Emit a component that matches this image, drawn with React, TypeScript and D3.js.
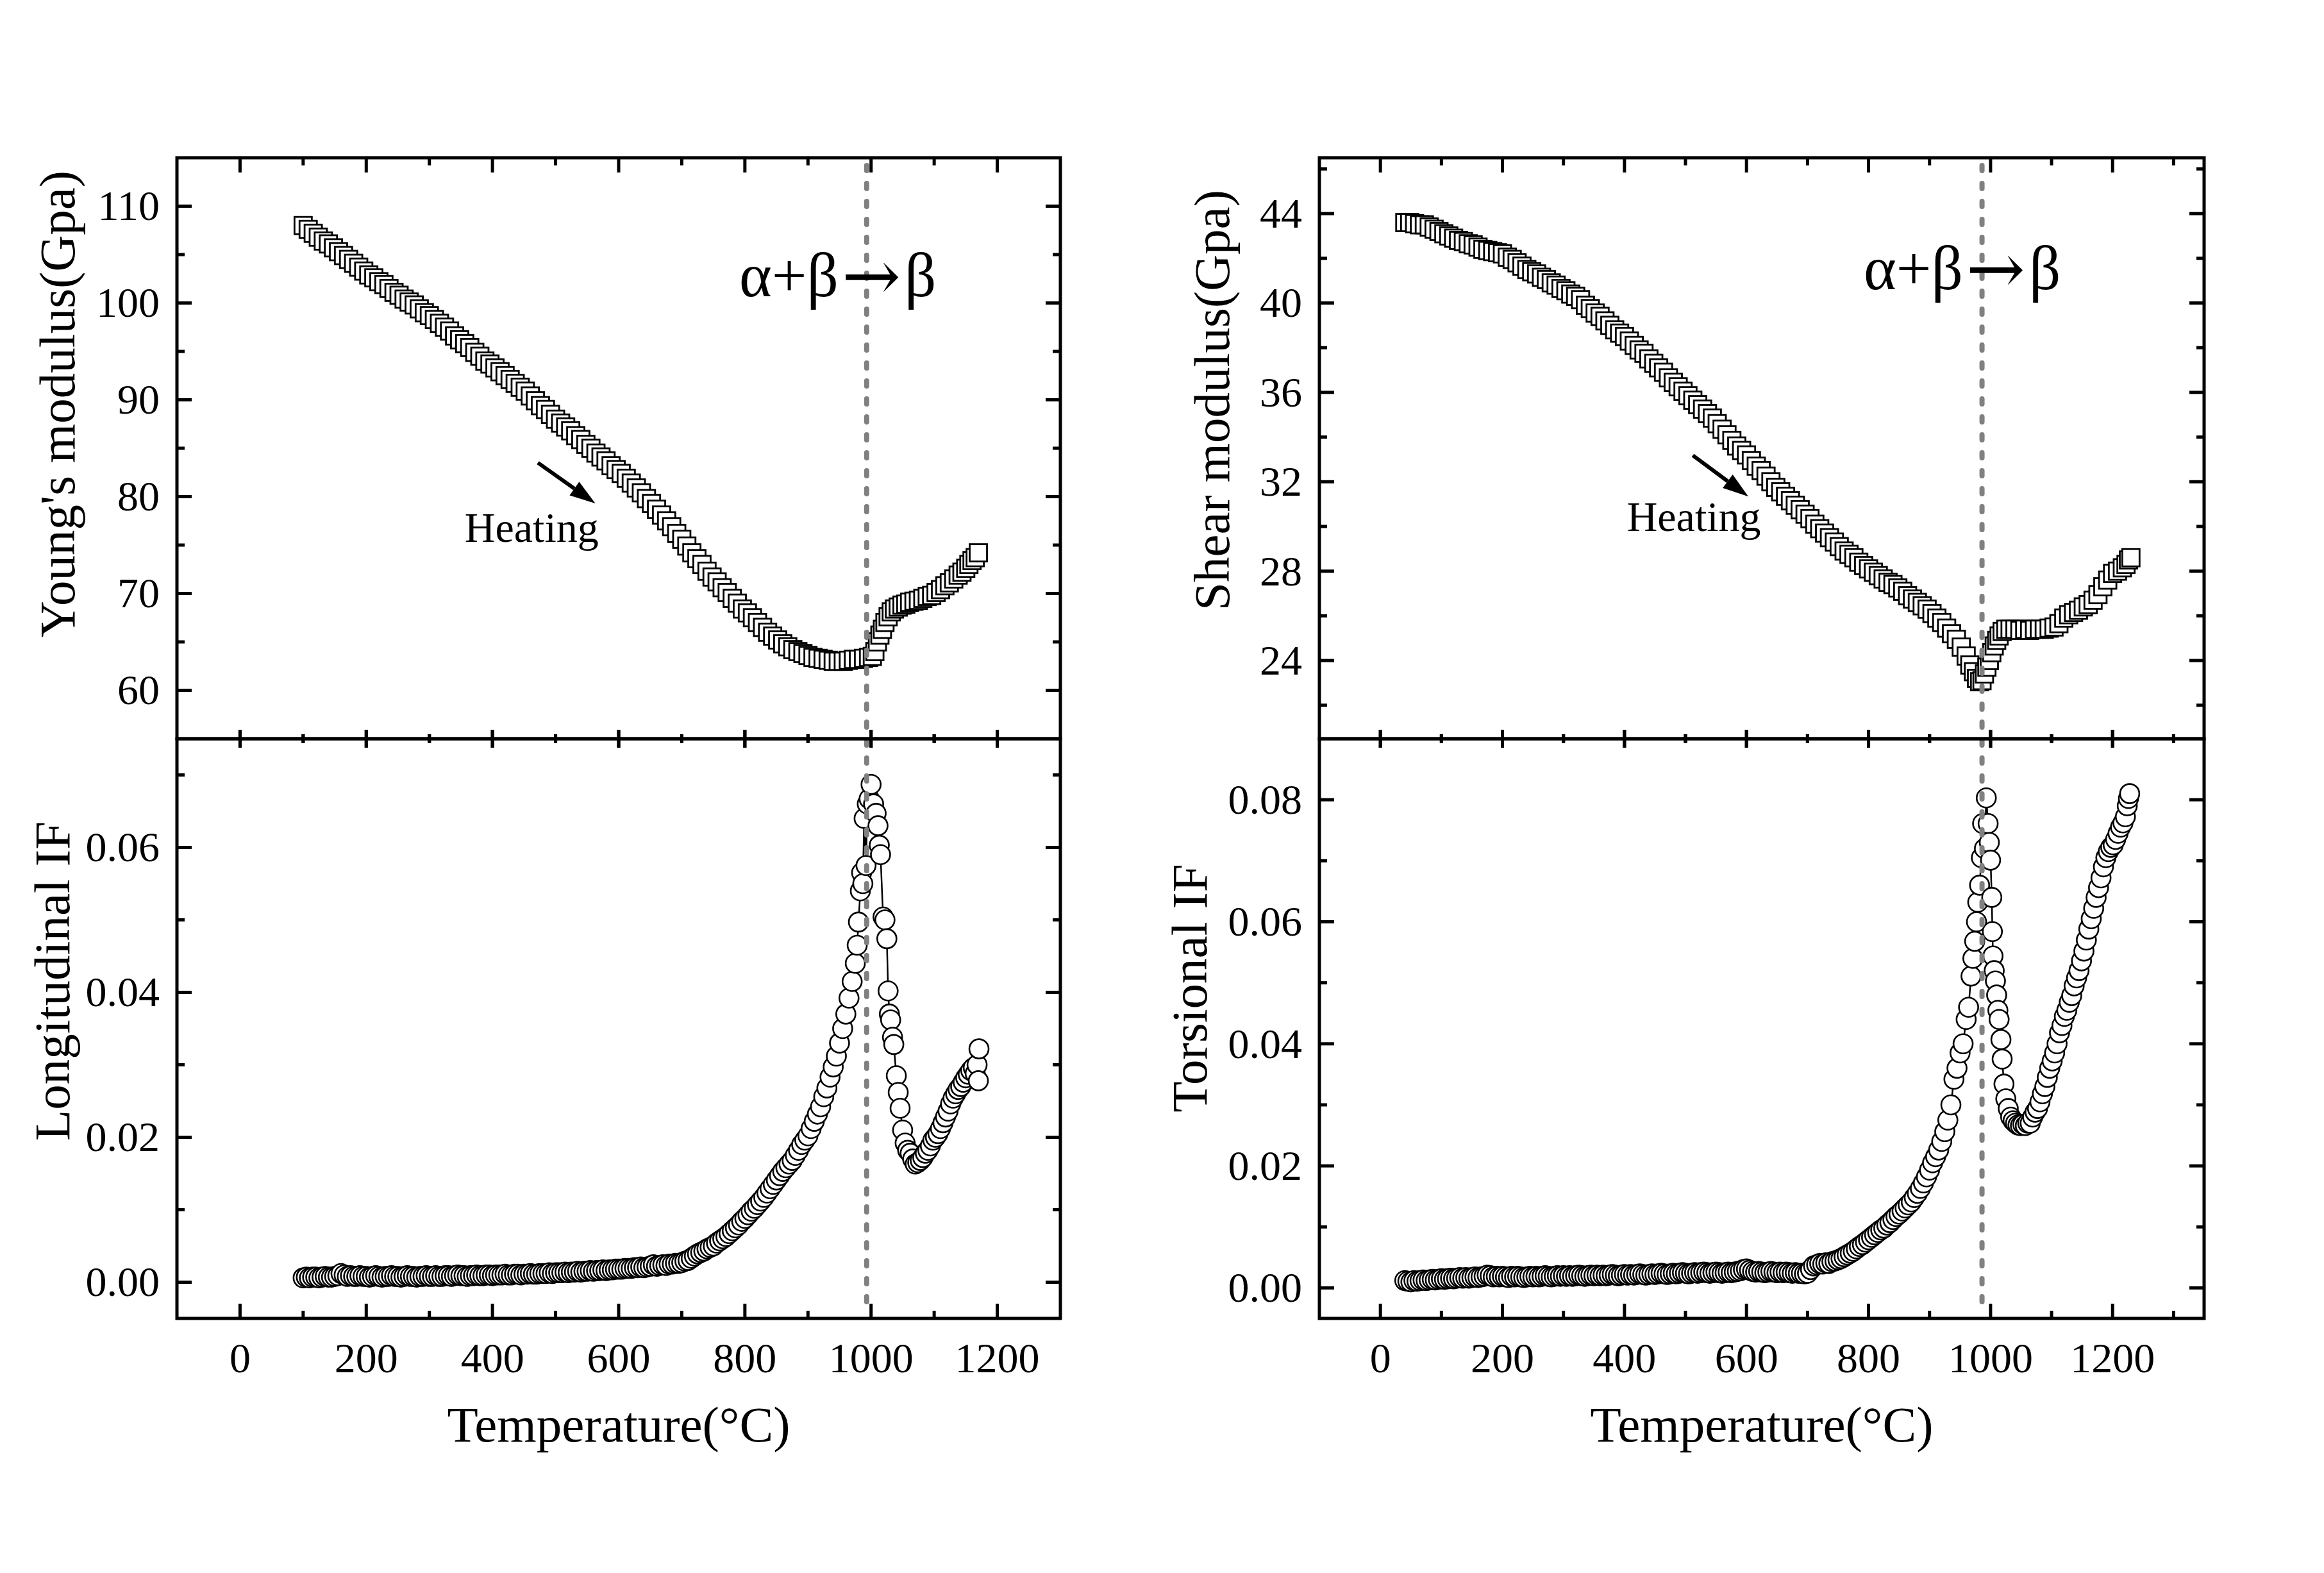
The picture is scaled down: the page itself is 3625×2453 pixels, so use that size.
import React from 'react';
import * as d3 from 'd3';

const FONT = "'Times New Roman', 'Liberation Serif', serif";

// ---------- DATA ----------
// Young's modulus (GPa) vs temperature (°C)
const youngData: [number, number][] = [
  [100,108.0],[108,107.6],[116,107.2],[124,106.8],[132,106.4],[140,106.1],[148,105.7],[156,105.3],[164,104.9],[172,104.5],
  [180,104.1],[188,103.7],[196,103.3],[204,102.9],[212,102.6],[220,102.2],[228,101.9],[236,101.5],[244,101.1],[252,100.8],
  [260,100.4],[268,100.1],[276,99.8],[284,99.4],[292,99.0],[300,98.7],[308,98.3],[316,97.9],[324,97.5],[332,97.1],
  [340,96.6],[348,96.2],[356,95.8],[364,95.4],[372,94.9],[380,94.5],[388,94.0],[396,93.7],[404,93.3],[412,92.9],
  [420,92.5],[428,92.1],[436,91.7],[444,91.3],[452,90.9],[460,90.4],[468,89.9],[476,89.4],[484,89.0],[492,88.5],
  [500,88.0],[508,87.6],[516,87.2],[524,86.8],[532,86.3],[540,85.9],[548,85.4],[556,85.0],[564,84.5],[572,84.1],
  [580,83.7],[588,83.2],[596,82.8],[604,82.4],[612,81.9],[620,81.4],[628,80.9],[636,80.4],[644,79.8],[652,79.3],
  [660,78.7],[668,78.1],[676,77.5],[684,76.9],[692,76.2],[700,75.6],[708,74.9],[716,74.2],[724,73.6],[732,73.0],
  [740,72.3],[748,71.7],[756,71.2],[764,70.6],[772,70.1],[780,69.5],[788,69.0],[796,68.4],[804,68.0],[812,67.5],
  [820,67.0],[828,66.5],[836,66.0],[844,65.6],[852,65.2],[860,64.8],[868,64.5],[876,64.2],[884,64.0],[892,63.8],
  [900,63.6],[908,63.4],[916,63.3],[924,63.2],[932,63.1],[940,63.0],[948,63.0],[956,63.0],[964,63.1],[972,63.2],
  [980,63.2],[988,63.3],[996,63.4],[1002,63.5],[1006,64.0],[1010,65.0],[1014,65.7],[1018,66.3],[1022,67.0],[1027,67.6],
  [1032,68.1],[1037,68.4],[1043,68.6],[1049,68.8],[1055,68.9],[1061,69.1],[1068,69.2],[1075,69.3],[1082,69.5],[1089,69.7],
  [1096,69.8],[1103,70.1],[1110,70.4],[1117,70.8],[1124,71.1],[1131,71.5],[1138,71.9],[1144,72.2],[1150,72.6],[1155,73.0],
  [1160,73.4],[1165,73.7],[1170,74.2],
];

// Longitudinal internal friction vs temperature (°C)
const longIFData: [number, number][] = [
  [100,.0006],[105,.0007],[110,.0006],[115,.0007],[120,.0007],[125,.0006],[130,.0007],[135,.0008],[140,.0007],[145,.0007],
  [150,.0008],[155,.0009],[160,.0012],[165,.0010],[170,.0008],[175,.0009],[180,.0008],[185,.0008],[190,.0009],[195,.0008],
  [200,.0008],[205,.0007],[210,.0008],[215,.0009],[220,.0008],[225,.0007],[230,.0008],[235,.0008],[240,.0009],[245,.0008],
  [250,.0008],[255,.0007],[260,.0008],[265,.0009],[270,.0008],[275,.0008],[280,.0007],[285,.0008],[290,.0008],[295,.0009],
  [300,.0008],[305,.0008],[310,.0009],[315,.0008],[320,.0008],[325,.0009],[330,.0009],[335,.0008],[340,.0009],[345,.0010],
  [350,.0009],[355,.0009],[360,.0008],[365,.0009],[370,.0009],[375,.0010],[380,.0009],[385,.0009],[390,.0010],[395,.0010],
  [400,.0009],[405,.0010],[410,.0010],[415,.0010],[420,.0011],[425,.0010],[430,.0010],[435,.0011],[440,.0011],[445,.0010],
  [450,.0011],[455,.0011],[460,.0012],[465,.0011],[470,.0011],[475,.0012],[480,.0012],[485,.0012],[490,.0013],[495,.0012],
  [500,.0013],[505,.0013],[510,.0013],[515,.0014],[520,.0013],[525,.0014],[530,.0014],[535,.0015],[540,.0014],[545,.0015],
  [550,.0015],[555,.0016],[560,.0015],[565,.0016],[570,.0016],[575,.0017],[580,.0016],[585,.0017],[590,.0017],[595,.0018],
  [600,.0018],[605,.0018],[610,.0019],[615,.0019],[620,.0019],[625,.0020],[630,.0020],[635,.0021],[640,.0020],[645,.0021],
  [650,.0022],[655,.0024],[660,.0022],[665,.0023],[670,.0024],[675,.0023],[680,.0025],[685,.0025],[690,.0026],[695,.0026],
  [700,.0027],[705,.0029],[710,.0030],[715,.0033],[720,.0036],[725,.0039],[730,.0041],[735,.0043],[740,.0046],[745,.0048],
  [750,.0050],[755,.0054],[760,.0057],[765,.0060],[770,.0063],[775,.0067],[780,.0071],[785,.0075],[790,.0079],[795,.0084],
  [800,.0088],[805,.0093],[810,.0098],[815,.0102],[820,.0107],[825,.0112],[830,.0117],[835,.0123],[840,.0129],[845,.0135],
  [850,.0141],[855,.0147],[860,.0153],[865,.0158],[870,.0163],[875,.0168],[880,.0175],[885,.0182],[890,.0190],[895,.0196],
  [900,.0202],[905,.0212],[910,.0222],[915,.0232],[920,.0242],[925,.0256],[930,.0268],[935,.0283],[940,.0297],[945,.0312],
  [950,.0330],[955,.0350],[960,.0370],[965,.0392],[970,.0415],[975,.0440],[978,.0465],[980,.0497],[983,.0540],[985,.0565],
  [987,.0550],[989,.0640],[992,.0575],[994,.0660],[997,.0667],[1000,.0687],[1004,.0660],[1008,.0647],[1011,.0630],[1013,.0603],
  [1015,.0590],[1019,.0504],[1022,.0500],[1025,.0474],[1027,.0402],[1029,.0370],[1031,.0362],[1034,.0338],[1036,.0328],[1040,.0285],
  [1043,.0262],[1046,.0240],[1050,.0210],[1054,.0192],[1058,.0182],[1062,.0178],[1066,.0170],[1070,.0163],[1074,.0165],[1078,.0168],
  [1082,.0172],[1086,.0178],[1090,.0182],[1094,.0188],[1098,.0196],[1102,.0200],[1106,.0205],[1110,.0212],[1114,.0220],[1118,.0228],
  [1122,.0236],[1126,.0246],[1130,.0254],[1134,.0260],[1138,.0266],[1142,.0270],[1146,.0276],[1150,.0282],[1154,.0287],[1158,.0292],
  [1162,.0296],[1165,.0288],[1168,.0300],[1170,.0278],[1171,.0322],
];

// Shear modulus (GPa) vs temperature (°C)
const shearData: [number, number][] = [
  [40,43.6],[48,43.6],[56,43.55],[64,43.5],[72,43.5],[80,43.4],[88,43.3],[96,43.2],[104,43.1],[112,43.0],
  [120,42.9],[128,42.8],[136,42.75],[144,42.65],[152,42.6],[160,42.5],[168,42.4],[176,42.35],[184,42.3],[192,42.25],
  [200,42.2],[208,42.05],[216,41.95],[224,41.8],[232,41.65],[240,41.5],[248,41.4],[256,41.3],[264,41.15],[272,41.05],
  [280,40.9],[288,40.8],[296,40.65],[304,40.55],[312,40.4],[320,40.3],[328,40.15],[336,39.9],[344,39.75],[352,39.55],
  [360,39.4],[368,39.2],[376,39.0],[384,38.8],[392,38.65],[400,38.5],[408,38.3],[416,38.1],[424,37.9],[432,37.75],
  [440,37.5],[448,37.3],[456,37.1],[464,36.9],[472,36.65],[480,36.45],[488,36.25],[496,36.05],[504,35.85],[512,35.65],
  [520,35.45],[528,35.25],[536,35.05],[544,34.85],[552,34.6],[560,34.35],[568,34.1],[576,33.85],[584,33.6],[592,33.4],
  [600,33.2],[608,32.95],[616,32.7],[624,32.5],[632,32.25],[640,32.0],[648,31.75],[656,31.55],[664,31.35],[672,31.15],
  [680,30.95],[688,30.75],[696,30.55],[704,30.35],[712,30.1],[720,29.9],[728,29.7],[736,29.5],[744,29.3],[752,29.1],
  [760,28.9],[768,28.75],[776,28.6],[784,28.4],[792,28.25],[800,28.1],[808,27.95],[816,27.8],[824,27.65],[832,27.5],
  [840,27.4],[848,27.25],[856,27.1],[864,26.9],[872,26.75],[880,26.6],[888,26.45],[896,26.3],[904,26.1],[912,25.9],
  [920,25.7],[928,25.45],[936,25.2],[944,24.95],[952,24.6],[960,24.2],[966,23.8],[972,23.5],[977,23.2],[982,23.05],
  [986,23.1],[990,23.4],[994,23.7],[998,24.0],[1002,24.35],[1006,24.65],[1010,24.9],[1014,25.1],[1019,25.3],[1025,25.4],
  [1032,25.4],[1040,25.4],[1048,25.35],[1056,25.4],[1064,25.35],[1072,25.4],[1080,25.4],[1088,25.4],[1096,25.45],[1104,25.5],
  [1112,25.65],[1120,25.9],[1128,26.05],[1136,26.15],[1144,26.25],[1152,26.4],[1160,26.5],[1168,26.7],[1176,26.95],[1184,27.3],
  [1192,27.6],[1200,27.9],[1208,28.0],[1216,28.15],[1222,28.3],[1226,28.5],[1230,28.6],
];

// Torsional internal friction vs temperature (°C)
const torsIFData: [number, number][] = [
  [40,.0012],[45,.0011],[50,.0010],[55,.0012],[60,.0011],[65,.0012],[70,.0013],[75,.0012],[80,.0013],[85,.0014],
  [90,.0013],[95,.0014],[100,.0015],[105,.0014],[110,.0015],[115,.0016],[120,.0015],[125,.0016],[130,.0017],[135,.0016],
  [140,.0017],[145,.0016],[150,.0017],[155,.0018],[160,.0017],[165,.0018],[170,.0019],[175,.0021],[180,.0020],[185,.0018],
  [190,.0019],[195,.0018],[200,.0019],[205,.0018],[210,.0017],[215,.0019],[220,.0018],[225,.0019],[230,.0018],[235,.0017],
  [240,.0018],[245,.0019],[250,.0018],[255,.0019],[260,.0018],[265,.0019],[270,.0020],[275,.0019],[280,.0018],[285,.0019],
  [290,.0020],[295,.0019],[300,.0020],[305,.0019],[310,.0020],[315,.0019],[320,.0020],[325,.0021],[330,.0020],[335,.0019],
  [340,.0020],[345,.0021],[350,.0020],[355,.0021],[360,.0020],[365,.0021],[370,.0020],[375,.0021],[380,.0022],[385,.0021],
  [390,.0020],[395,.0021],[400,.0022],[405,.0021],[410,.0022],[415,.0021],[420,.0022],[425,.0023],[430,.0022],[435,.0021],
  [440,.0022],[445,.0023],[450,.0022],[455,.0023],[460,.0024],[465,.0023],[470,.0022],[475,.0023],[480,.0024],[485,.0023],
  [490,.0024],[495,.0025],[500,.0024],[505,.0023],[510,.0024],[515,.0025],[520,.0024],[525,.0025],[530,.0026],[535,.0025],
  [540,.0024],[545,.0025],[550,.0026],[555,.0025],[560,.0024],[565,.0025],[570,.0026],[575,.0025],[580,.0026],[585,.0027],
  [590,.0028],[595,.0030],[600,.0031],[605,.0029],[610,.0027],[615,.0026],[620,.0027],[625,.0026],[630,.0025],[635,.0026],
  [640,.0027],[645,.0026],[650,.0025],[655,.0026],[660,.0025],[665,.0026],[670,.0025],[675,.0024],[680,.0025],[685,.0024],
  [690,.0024],[695,.0023],[700,.0024],[705,.0030],[710,.0036],[715,.0038],[720,.0040],[725,.0039],[730,.0041],[735,.0040],
  [740,.0043],[745,.0044],[750,.0046],[755,.0048],[760,.0051],[765,.0054],[770,.0057],[775,.0060],[780,.0064],[785,.0068],
  [790,.0071],[795,.0075],[800,.0079],[805,.0083],[810,.0087],[815,.0091],[820,.0095],[825,.0098],[830,.0103],[835,.0107],
  [840,.0112],[845,.0117],[850,.0121],[855,.0126],[860,.0131],[865,.0136],[870,.0141],[875,.0148],[880,.0155],[885,.0163],
  [890,.0172],[895,.0182],[900,.0193],[905,.0205],[910,.0215],[915,.0226],[920,.0240],[925,.0256],[930,.0275],[935,.0300],
  [940,.0342],[945,.0360],[950,.0385],[955,.0400],[960,.0440],[964,.0460],[968,.0511],[971,.0540],[974,.0568],[977,.0600],
  [979,.0632],[982,.0660],[985,.0705],[987,.0761],[990,.0720],[993,.0803],[996,.0761],[998,.0730],[1000,.0701],[1002,.0640],
  [1003,.0584],[1004,.0544],[1006,.0520],[1008,.0503],[1010,.0480],[1012,.0455],[1014,.0440],[1017,.0407],[1019,.0375],[1022,.0334],
  [1025,.0310],[1029,.0294],[1033,.0280],[1037,.0274],[1041,.0270],[1045,.0267],[1049,.0266],[1053,.0268],[1057,.0266],[1061,.0270],
  [1065,.0270],[1069,.0280],[1073,.0288],[1077,.0294],[1081,.0305],[1085,.0318],[1089,.0330],[1093,.0345],[1097,.0360],[1101,.0372],
  [1105,.0385],[1109,.0400],[1113,.0418],[1117,.0430],[1121,.0445],[1125,.0455],[1129,.0468],[1133,.0479],[1137,.0495],[1141,.0508],
  [1145,.0520],[1149,.0536],[1153,.0552],[1157,.0570],[1161,.0588],[1165,.0605],[1169,.0622],[1173,.0640],[1177,.0656],[1181,.0672],
  [1185,.0690],[1189,.0705],[1193,.0715],[1197,.0722],[1201,.0726],[1205,.0735],[1209,.0745],[1213,.0755],[1217,.0762],[1221,.0772],
  [1224,.0790],[1226,.0802],[1228,.0810],
];

// Ticks
const xMajor = [0, 200, 400, 600, 800, 1000, 1200];
const xMinor = [100, 300, 500, 700, 900, 1100, 1300];
const youngMajor = [60, 70, 80, 90, 100, 110];
const youngMinor = [65, 75, 85, 95, 105];
const longMajor = [0, 0.02, 0.04, 0.06];
const longMinor = [0.01, 0.03, 0.05, 0.07];
const shearMajor = [24, 28, 32, 36, 40, 44];
const shearMinor = [22, 26, 30, 34, 38, 42, 46];
const torsMajor = [0, 0.02, 0.04, 0.06, 0.08];
const torsMinor = [0.01, 0.03, 0.05, 0.07];

// Transition temperatures (dashed lines)
const transitionLeft = 993;
const transitionRight = 986;

// ---------- LAYOUT ----------
const W = 3625, H = 2453;
const Y0 = 246, YM = 1152, Y1 = 2056;
const LX0 = 276, LX1 = 1654, RX0 = 2058, RX1 = 3438;

const xL = d3.scaleLinear().domain([-100, 1300]).range([LX0, LX1]);
const xR = d3.scaleLinear().domain([-100, 1350]).range([RX0, RX1]);
const yYoung = d3.scaleLinear().domain([55, 115]).range([YM, Y0]);
const yLong = d3.scaleLinear().domain([-0.005, 0.075]).range([Y1, YM]);
const yShear = d3.scaleLinear().domain([20.5, 46.5]).range([YM, Y0]);
const yTors = d3.scaleLinear().domain([-0.005, 0.09]).range([Y1, YM]);

const TICK = 23, MINOR = 12, MIDT = 14, MIDM = 7, SW = 5;
const LABEL = 66, TITLE = 79;

type Sc = d3.ScaleLinear<number, number>;

function Frame({ x, y, yTop, yBot, major, minor, fmt, topKind, botKind, xLabels }: {
  x: Sc; y: Sc; yTop: number; yBot: number; major: number[]; minor: number[];
  fmt: (v: number) => string; topKind: 'edge' | 'mid'; botKind: 'edge' | 'mid'; xLabels: boolean;
}) {
  const [x0, x1] = x.range();
  const els: React.ReactNode[] = [];
  const inX = (v: number) => x(v) > x0 + 1 && x(v) < x1 - 1;
  [...xMajor.map(v => [v, 1]), ...xMinor.map(v => [v, 0])].forEach(([v, m], i) => {
    if (!inX(v)) return;
    const px = x(v);
    const topLen = topKind === 'edge' ? (m ? TICK : MINOR) : (m ? MIDT : MIDM);
    const botLen = botKind === 'edge' ? (m ? TICK : MINOR) : (m ? MIDT : MIDM);
    els.push(<line key={'xt' + i} x1={px} x2={px} y1={yTop - (topKind === 'mid' ? topLen : 0)} y2={yTop + topLen} stroke="#000" strokeWidth={SW} />);
    els.push(<line key={'xb' + i} x1={px} x2={px} y1={yBot - botLen} y2={yBot + (botKind === 'mid' ? botLen : 0)} stroke="#000" strokeWidth={SW} />);
  });
  [...major.map(v => [v, 1]), ...minor.map(v => [v, 0])].forEach(([v, m], i) => {
    const py = y(v);
    if (py < yTop + 1 || py > yBot - 1) return;
    const len = m ? TICK : MINOR;
    els.push(<line key={'yl' + i} x1={x0} x2={x0 + len} y1={py} y2={py} stroke="#000" strokeWidth={SW} />);
    els.push(<line key={'yr' + i} x1={x1 - len} x2={x1} y1={py} y2={py} stroke="#000" strokeWidth={SW} />);
  });
  major.forEach((v, i) => {
    els.push(<text key={'yla' + i} x={x0 - 27} y={y(v)} dy="0.333em" textAnchor="end" fontSize={LABEL} fontFamily={FONT}>{fmt(v)}</text>);
  });
  if (xLabels) {
    xMajor.forEach((v, i) => {
      els.push(<text key={'xla' + i} x={x(v)} y={yBot + 84} textAnchor="middle" fontSize={LABEL} fontFamily={FONT}>{String(v)}</text>);
    });
  }
  els.push(<rect key="frame" x={x0} y={yTop} width={x1 - x0} height={yBot - yTop} fill="none" stroke="#000" strokeWidth={SW} />);
  return <g>{els}</g>;
}

function Squares({ data, x, y }: { data: [number, number][]; x: Sc; y: Sc }) {
  const s = 27;
  return <g>{data.map((d, i) => (
    <rect key={i} x={x(d[0]) - s / 2} y={y(d[1]) - s / 2} width={s} height={s} fill="#fff" stroke="#000" strokeWidth={2.8} />
  ))}</g>;
}

function Circles({ data, x, y }: { data: [number, number][]; x: Sc; y: Sc }) {
  const line = d3.line<[number, number]>().x(d => x(d[0])).y(d => y(d[1]));
  return <g>
    <path d={line(data) || ''} fill="none" stroke="#000" strokeWidth={2.5} />
    {data.map((d, i) => (
      <circle key={i} cx={x(d[0])} cy={y(d[1])} r={15} fill="#fff" stroke="#000" strokeWidth={2.6} />
    ))}
  </g>;
}

function Arrow({ x1, y1, x2, y2 }: { x1: number; y1: number; x2: number; y2: number }) {
  const ang = Math.atan2(y2 - y1, x2 - x1);
  const hl = 40, hw = 13;
  const bx = x2 - hl * Math.cos(ang), by = y2 - hl * Math.sin(ang);
  const px = -Math.sin(ang) * hw, py = Math.cos(ang) * hw;
  return <g>
    <line x1={x1} y1={y1} x2={bx} y2={by} stroke="#000" strokeWidth={6} />
    <polygon points={`${x2},${y2} ${bx + px},${by + py} ${bx - px},${by - py}`} fill="#000" />
  </g>;
}

function Transition({ x, y }: { x: number; y: number }) {
  return <text x={x} y={y} fontSize={97} fontFamily={FONT}>
    α+β<tspan dx={5} dy={6} fontFamily="'DejaVu Serif', 'DejaVu Sans', serif" fontSize={110}>→</tspan><tspan dx={6} dy={-6}>β</tspan>
  </text>;
}

export default function App() {
  const f2 = (v: number) => v.toFixed(2);
  const f0 = (v: number) => String(v);
  return (
    <svg width={W} height={H} viewBox={`0 0 ${W} ${H}`} style={{ position: 'absolute', left: 0, top: 0, background: '#fff' }}>
      <rect x={0} y={0} width={W} height={H} fill="#fff" />

      {/* LEFT panels */}
      <Squares data={youngData} x={xL} y={yYoung} />
      <Circles data={longIFData} x={xL} y={yLong} />
      <line x1={xL(transitionLeft)} x2={xL(transitionLeft)} y1={Y0 + 12} y2={Y1 - 8} stroke="#808080" strokeWidth={8} strokeDasharray="8 20" strokeLinecap="round" />
      <Frame x={xL} y={yYoung} yTop={Y0} yBot={YM} major={youngMajor} minor={youngMinor} fmt={f0} topKind="edge" botKind="mid" xLabels={false} />
      <Frame x={xL} y={yLong} yTop={YM} yBot={Y1} major={longMajor} minor={longMinor} fmt={f2} topKind="mid" botKind="edge" xLabels={true} />
      <Transition x={xL(791)} y={yYoung(100.7)} />
      <Arrow x1={xL(472)} y1={yYoung(83.5)} x2={xL(563)} y2={yYoung(79.3)} />
      <text x={xL(356)} y={yYoung(75.3)} fontSize={LABEL} fontFamily={FONT}>Heating</text>
      <text transform={`translate(116,630) rotate(-90)`} textAnchor="middle" fontSize={TITLE} fontFamily={FONT}>Young's modulus(Gpa)</text>
      <text transform={`translate(108,1530) rotate(-90)`} textAnchor="middle" fontSize={TITLE} fontFamily={FONT}>Longitudinal IF</text>
      <text x={(LX0 + LX1) / 2} y={2248} textAnchor="middle" fontSize={TITLE} fontFamily={FONT}>Temperature(°C)</text>

      {/* RIGHT panels */}
      <Squares data={shearData} x={xR} y={yShear} />
      <Circles data={torsIFData} x={xR} y={yTors} />
      <line x1={xR(transitionRight)} x2={xR(transitionRight)} y1={Y0 + 12} y2={Y1 - 8} stroke="#808080" strokeWidth={8} strokeDasharray="8 20" strokeLinecap="round" />
      <Frame x={xR} y={yShear} yTop={Y0} yBot={YM} major={shearMajor} minor={shearMinor} fmt={f0} topKind="edge" botKind="mid" xLabels={false} />
      <Frame x={xR} y={yTors} yTop={YM} yBot={Y1} major={torsMajor} minor={torsMinor} fmt={f2} topKind="mid" botKind="edge" xLabels={true} />
      <Transition x={xR(792)} y={yShear(40.63)} />
      <Arrow x1={xR(512)} y1={yShear(33.18)} x2={xR(603)} y2={yShear(31.34)} />
      <text x={xR(404)} y={yShear(29.81)} fontSize={LABEL} fontFamily={FONT}>Heating</text>
      <text transform={`translate(1917,624) rotate(-90)`} textAnchor="middle" fontSize={TITLE} fontFamily={FONT}>Shear modulus(Gpa)</text>
      <text transform={`translate(1882,1541) rotate(-90)`} textAnchor="middle" fontSize={TITLE} fontFamily={FONT}>Torsional IF</text>
      <text x={(RX0 + RX1) / 2} y={2248} textAnchor="middle" fontSize={TITLE} fontFamily={FONT}>Temperature(°C)</text>
    </svg>
  );
}
